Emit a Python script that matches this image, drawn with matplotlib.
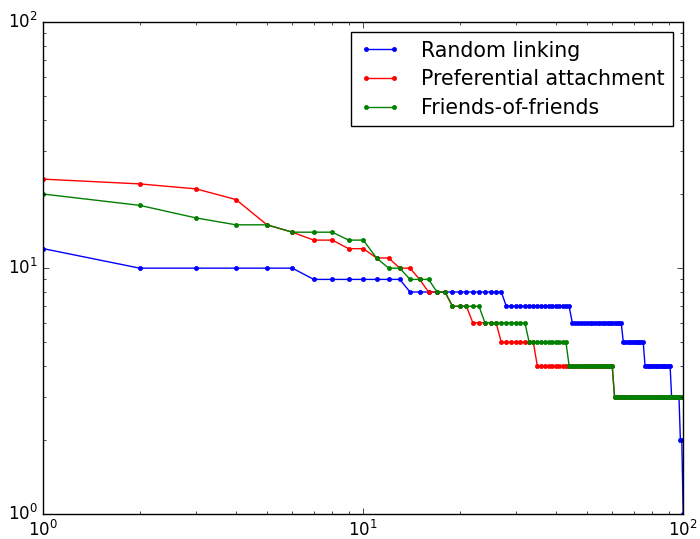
import matplotlib
matplotlib.use("Agg")
import matplotlib.pyplot as plt

plt.style.use("classic")

# rank of node (1 = highest degree)
ranks = list(range(1, 101))

# degree sequences, sorted descending
random_linking = [
    12, 10, 10, 10, 10, 10, 9, 9, 9, 9,
    9, 9, 9, 8, 8, 8, 8, 8, 8, 8,
    8, 8, 8, 8, 8, 8, 8, 7, 7, 7,
    7, 7, 7, 7, 7, 7, 7, 7, 7, 7,
    7, 7, 7, 7, 6, 6, 6, 6, 6, 6,
    6, 6, 6, 6, 6, 6, 6, 6, 6, 6,
    6, 6, 6, 6, 5, 5, 5, 5, 5, 5,
    5, 5, 5, 5, 5, 4, 4, 4, 4, 4,
    4, 4, 4, 4, 4, 4, 4, 4, 4, 4,
    4, 3, 3, 3, 3, 3, 3, 2, 2, 1,
]
preferential = [
    23, 22, 21, 19, 15, 14, 13, 13, 12, 12,
    11, 11, 10, 10, 9, 8, 8, 8, 7, 7,
    7, 6, 6, 6, 6, 6, 5, 5, 5, 5,
    5, 5, 5, 5, 4, 4, 4, 4, 4, 4,
    4, 4, 4, 4, 4, 4, 4, 4, 4, 4,
    4, 4, 4, 4, 4, 4, 4, 4, 4, 4,
    3, 3, 3, 3, 3, 3, 3, 3, 3, 3,
    3, 3, 3, 3, 3, 3, 3, 3, 3, 3,
    3, 3, 3, 3, 3, 3, 3, 3, 3, 3,
    3, 3, 3, 3, 3, 3, 3, 3, 3, 3,
]
friends_of_friends = [
    20, 18, 16, 15, 15, 14, 14, 14, 13, 13,
    11, 10, 10, 9, 9, 9, 8, 8, 7, 7,
    7, 7, 7, 6, 6, 6, 6, 6, 6, 6,
    6, 6, 5, 5, 5, 5, 5, 5, 5, 5,
    5, 5, 5, 4, 4, 4, 4, 4, 4, 4,
    4, 4, 4, 4, 4, 4, 4, 4, 4, 4,
    3, 3, 3, 3, 3, 3, 3, 3, 3, 3,
    3, 3, 3, 3, 3, 3, 3, 3, 3, 3,
    3, 3, 3, 3, 3, 3, 3, 3, 3, 3,
    3, 3, 3, 3, 3, 3, 3, 3, 3, 3,
]

fig = plt.figure(figsize=(7.0, 5.39), dpi=100, facecolor="white")
ax = fig.add_axes([0.062, 0.046, 0.914, 0.913])

ax.plot(ranks, random_linking, "b.-", label="Random linking")
ax.plot(ranks, preferential, "r.-", label="Preferential attachment")
ax.plot(ranks, friends_of_friends, "g.-", label="Friends-of-friends")

ax.set_xscale("log")
ax.set_yscale("log")
ax.set_xlim(1, 100)
ax.set_ylim(1, 100)

ax.legend(loc="upper right", fontsize=14.8, numpoints=2,
          handletextpad=1.0, labelspacing=0.42)

plt.savefig("out.png", dpi=100, facecolor="white")
